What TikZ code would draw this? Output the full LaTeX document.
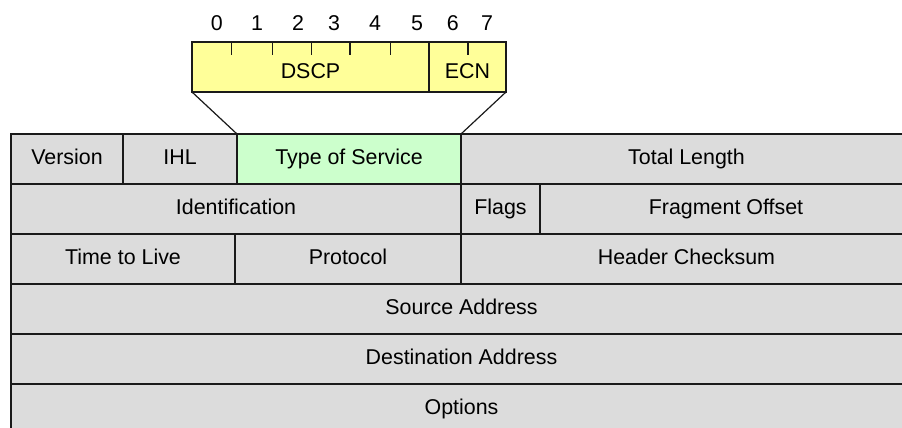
\documentclass[tikz,border=0pt]{standalone}
\usepackage{fontspec}
\setmainfont{Liberation Sans}
\definecolor{cellgray}{HTML}{DCDCDC}
\definecolor{tosgreen}{HTML}{CCFFCC}
\definecolor{boxyellow}{HTML}{FFFF99}
\definecolor{edge}{HTML}{1A1A1A}
\begin{document}
\begin{tikzpicture}[x=1pt,y=-1pt,
  font=\fontsize{21.4}{25}\selectfont,
  cell/.style={draw=edge, line width=1.5pt, fill=cellgray, inner sep=0pt, outer sep=0pt,
    minimum height=50pt, text height=16pt, text depth=5.3pt, anchor=north west},
  bitbox/.style={draw=edge, line width=1.5pt, fill=boxyellow, inner sep=0pt, outer sep=0pt,
    minimum height=50pt, text height=22.3pt, text depth=0pt, anchor=north west},
  digit/.style={inner sep=0pt},
  tick/.style={draw=edge, line width=1.5pt},
  zoomline/.style={draw=edge, line width=1.2pt}]
\useasboundingbox (0,0) rectangle (902,428);
\clip (0,0) rectangle (902,428);
\fill[white] (0,0) rectangle (902,428);
% row 1
\node[cell, minimum width=112pt] (ver) at (11,134) {Version};
\node[cell, minimum width=114pt] (ihl) at (123,134) {IHL};
\node[cell, minimum width=224pt, fill=tosgreen] (tos) at (237,134) {Type of Service};
\node[cell, minimum width=451pt] (len) at (461,134) {Total Length};
% row 2
\node[cell, minimum width=450pt] (ident) at (11,184) {Identification};
\node[cell, minimum width=79pt] (flags) at (461,184) {Flags};
\node[cell, minimum width=372pt] (frag) at (540,184) {Fragment Offset};
% row 3
\node[cell, minimum width=224pt] (ttl) at (11,234) {Time to Live};
\node[cell, minimum width=226pt] (proto) at (235,234) {Protocol};
\node[cell, minimum width=451pt] (csum) at (461,234) {Header Checksum};
% rows 4-6
\node[cell, minimum width=901pt] (src) at (11,284) {Source Address};
\node[cell, minimum width=901pt] (dst) at (11,334) {Destination Address};
\node[cell, minimum width=901pt] (opt) at (11,384) {Options};
% ToS bit box
\node[bitbox, minimum width=237pt] (dscp) at (192,42) {DSCP};
\node[bitbox, minimum width=77pt] (ecn) at (429,42) {ECN};
% ticks
\foreach \tx in {231.5,272.5,311.5,350,390.5,468}
  \draw[tick] (\tx,42) -- (\tx,55);
% bit numbers
\node[digit] (b0) at (216.7,23.3) {0};
\node[digit] (b1) at (257,23.3) {1};
\node[digit] (b2) at (298,23.3) {2};
\node[digit] (b3) at (334,23.3) {3};
\node[digit] (b4) at (375,23.3) {4};
\node[digit] (b5) at (417,23.3) {5};
\node[digit] (b6) at (452.7,23.3) {6};
\node[digit] (b7) at (487,23.3) {7};
% zoom lines
\draw[zoomline] (dscp.south west) -- (tos.north west);
\draw[zoomline] (ecn.south east) -- (tos.north east);
\end{tikzpicture}
\end{document}
